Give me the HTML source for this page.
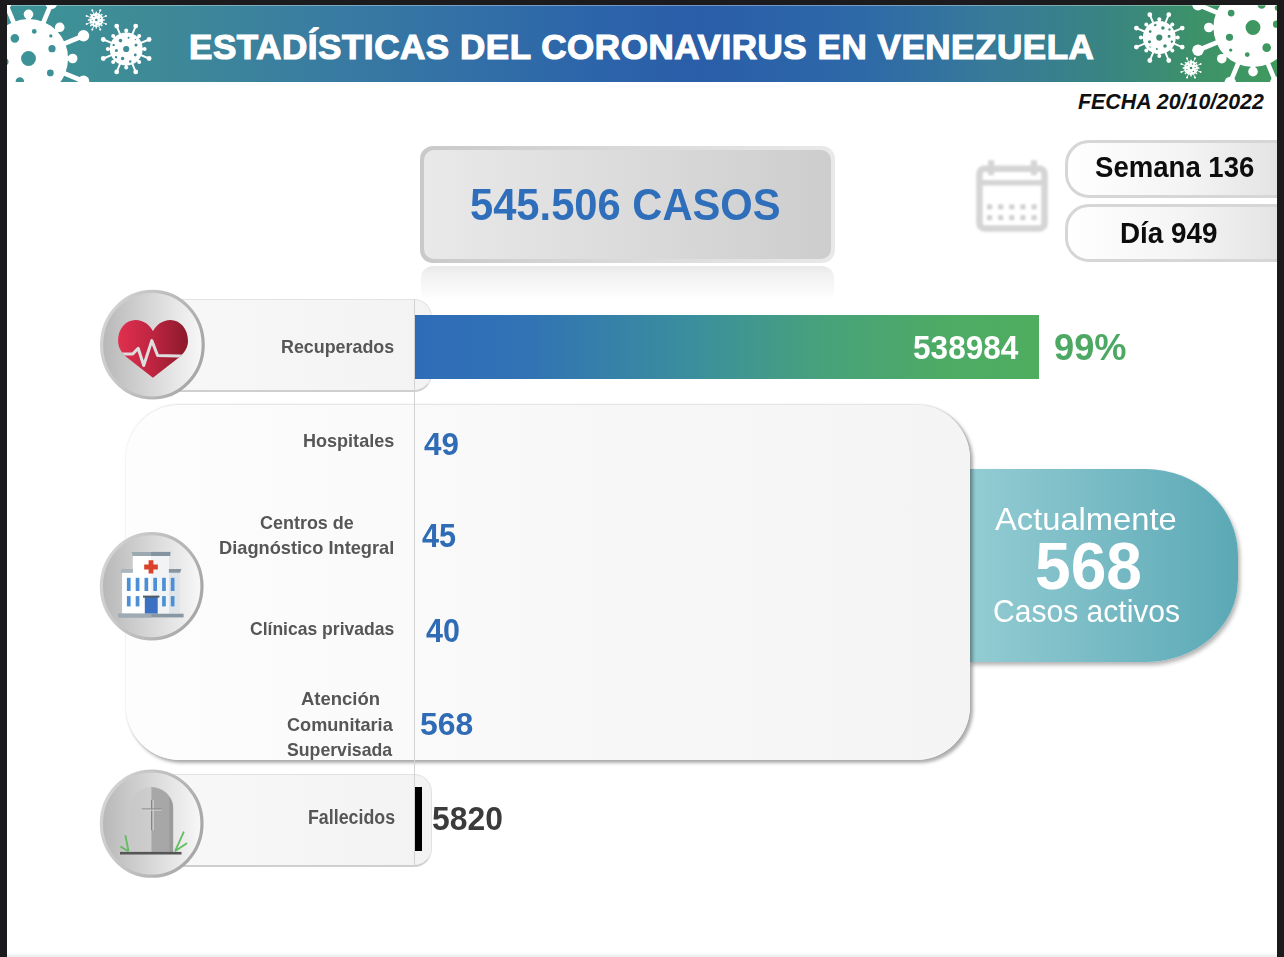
<!DOCTYPE html>
<html><head><meta charset="utf-8">
<style>
*{margin:0;padding:0;box-sizing:border-box}
html,body{width:1284px;height:957px;overflow:hidden;background:#1b1b1d}
body{position:relative;font-family:"Liberation Sans",sans-serif}
.page{position:absolute;left:7px;top:5px;width:1270px;height:952px;background:#fff;overflow:hidden}
.c{position:absolute;left:-7px;top:-5px;width:1284px;height:957px}
.a{position:absolute}
.t{position:absolute;white-space:nowrap;line-height:1;transform-origin:0 0}
.banner{position:absolute;left:7px;top:5px;width:1270px;height:77px;overflow:hidden;
 background:linear-gradient(90deg,#3d9497 0.0%,#3e8a96 11.3%,#3a7ea0 23.1%,#3371a6 34.9%,#2c64aa 46.7%,#2a5ea8 54.6%,#2d68a8 66.4%,#33739f 73.5%,#387a98 77.4%,#387f8e 82.1%,#3a867f 87.6%,#3d9268 93.9%,#3f9a5e 100.0%)}
.title{left:189px;top:28px;font-size:35px;font-weight:bold;color:#fff}
.fecha{font-weight:bold;font-style:italic;font-size:21.4px;color:#111}
.lbl{font-weight:bold;color:#575757;font-size:19px}
.num{font-weight:bold;color:#2f6db6;font-size:31.5px}
.circ{position:absolute;width:106px;height:106px;border-radius:50%;border:3px solid #bfbfbf;
 background:linear-gradient(90deg,#c3c3c3 0%,#dadada 45%,#f3f3f3 100%)}
.pill{position:absolute;background:linear-gradient(90deg,#f8f8f8,#f3f3f3);border:1px solid #e2e2e2;border-bottom:2px solid #cfcfcf;border-radius:0 18px 18px 0}
</style></head><body>
<div class="page"><div class="c">
 <div class="banner">
  <svg class="a" style="left:0;top:0" width="1270" height="77" viewBox="7 5 1270 77">
   <defs><g id="vir" fill="#fff"><path fill-rule="evenodd" d="M-16.50 0.00a16.50 16.50 0 1 0 33.00 0a16.50 16.50 0 1 0 -33.00 0ZM-3.10 0.00a3.10 3.10 0 1 0 6.20 0a3.10 3.10 0 1 0 -6.20 0ZM-7.50 -8.40a1.80 1.80 0 1 0 3.60 0a1.80 1.80 0 1 0 -3.60 0ZM1.40 -11.30a1.00 1.00 0 1 0 2.00 0a1.00 1.00 0 1 0 -2.00 0ZM8.60 -9.40a0.70 0.70 0 1 0 1.40 0a0.70 0.70 0 1 0 -1.40 0ZM8.30 -4.10a1.50 1.50 0 1 0 3.00 0a1.50 1.50 0 1 0 -3.00 0ZM7.70 6.00a1.40 1.40 0 1 0 2.80 0a1.40 1.40 0 1 0 -2.80 0ZM-5.35 9.60a1.75 1.75 0 1 0 3.50 0a1.75 1.75 0 1 0 -3.50 0ZM-11.30 1.40a1.50 1.50 0 1 0 3.00 0a1.50 1.50 0 1 0 -3.00 0ZM2.80 12.60a1.30 1.30 0 1 0 2.60 0a1.30 1.30 0 1 0 -2.60 0ZM-13.80 -4.10a1.20 1.20 0 1 0 2.40 0a1.20 1.20 0 1 0 -2.40 0ZM-11.40 8.20a1.20 1.20 0 1 0 2.40 0a1.20 1.20 0 1 0 -2.40 0Z"/><path fill="none" stroke="#fff" stroke-width="1.95" d="M-5.36 -12.93L-9.49 -22.91M0.00 -14.00L0.00 -18.40M5.36 -12.93L9.49 -22.91M9.90 -9.90L13.01 -13.01M12.93 -5.36L22.91 -9.49M14.00 0.00L18.40 0.00M12.93 5.36L22.91 9.49M9.90 9.90L13.01 13.01M5.36 12.93L9.49 22.91M0.00 14.00L0.00 18.40M-5.36 12.93L-9.49 22.91M-9.90 9.90L-13.01 13.01M-12.93 5.36L-22.91 9.49M-14.00 0.00L-18.40 0.00M-12.93 -5.36L-22.91 -9.49M-9.90 -9.90L-13.01 -13.01"/><circle cx="-9.49" cy="-22.91" r="2.4"/><circle cx="0.00" cy="-18.40" r="2.0"/><circle cx="9.49" cy="-22.91" r="2.4"/><circle cx="13.01" cy="-13.01" r="2.0"/><circle cx="22.91" cy="-9.49" r="2.4"/><circle cx="18.40" cy="0.00" r="2.0"/><circle cx="22.91" cy="9.49" r="2.4"/><circle cx="13.01" cy="13.01" r="2.0"/><circle cx="9.49" cy="22.91" r="2.4"/><circle cx="0.00" cy="18.40" r="2.0"/><circle cx="-9.49" cy="22.91" r="2.4"/><circle cx="-13.01" cy="13.01" r="2.0"/><circle cx="-22.91" cy="9.49" r="2.4"/><circle cx="-18.40" cy="0.00" r="2.0"/><circle cx="-22.91" cy="-9.49" r="2.4"/><circle cx="-13.01" cy="-13.01" r="2.0"/></g></defs>
   <use href="#vir" transform="translate(28.5,58.5) scale(2.4)"/>
   <use href="#vir" transform="translate(126.2,49)"/>
   <use href="#vir" transform="translate(96.3,20) scale(0.42)"/>
   <use href="#vir" transform="translate(1253,27.5) rotate(180) scale(2.4)"/>
   <use href="#vir" transform="translate(1159.3,37.6) rotate(180)"/>
   <use href="#vir" transform="translate(1191,68) rotate(180) scale(0.42)"/>
  </svg>
  <div class="a" style="left:0;top:0;width:1270px;height:1px;background:rgba(255,255,255,0.35)"></div>
  <div class="t title" style="left:182px;top:23.8px;letter-spacing:0.55px;-webkit-text-stroke:1.2px #fff">ESTADÍSTICAS DEL CORONAVIRUS EN VENEZUELA</div>
 </div>
 <div class="t fecha" style="left:1078px;top:92.3px">FECHA 20/10/2022</div>

 <!-- casos box -->
 <div class="a refl" style="left:421px;top:266px;width:413px;height:34px;border-radius:12px 12px 0 0;background:linear-gradient(180deg,#e9e9e9 0%,#f1f1f1 25%,rgba(255,255,255,0) 100%)"></div>
 <div class="a" style="left:420px;top:146px;width:415px;height:117px;border-radius:13px;background:linear-gradient(90deg,#c9c9c9,#e9e9e9)">
  <div class="a" style="left:4px;top:4px;right:4px;bottom:4px;border-radius:10px;background:linear-gradient(90deg,#e9e9e9,#cdcdcd)"></div>
 </div>

 <!-- calendar -->
 <svg class="a" style="left:960px;top:145px;filter:blur(1.1px)" width="105" height="100" viewBox="960 145 105 100">
  <g fill="none" stroke="#d5d5d5" stroke-width="6.5">
   <rect x="979.5" y="168.7" width="65" height="59.8" rx="5"/>
  </g>
  <rect x="979.5" y="180" width="65" height="5.6" fill="#d5d5d5"/>
  <g fill="#d5d5d5">
   <rect x="988" y="160.3" width="6.2" height="15" rx="1"/>
   <rect x="1030.9" y="160.3" width="6.2" height="15" rx="1"/>
  </g>
  <g fill="#cfcfcf">
   <rect x="987.1" y="204.4" width="5" height="5"/><rect x="998.2" y="204.4" width="5" height="5"/><rect x="1009.3" y="204.4" width="5" height="5"/><rect x="1020.4" y="204.4" width="5" height="5"/><rect x="1031.6" y="204.4" width="5" height="5"/>
   <rect x="987.1" y="215.2" width="5" height="5"/><rect x="998.2" y="215.2" width="5" height="5"/><rect x="1009.3" y="215.2" width="5" height="5"/><rect x="1020.4" y="215.2" width="5" height="5"/><rect x="1031.6" y="215.2" width="5" height="5"/>
  </g>
 </svg>

 <!-- semana / dia pills -->
 <div class="a" style="left:1065px;top:139.5px;width:240px;height:58px;border-radius:24px;border:3px solid #d6d6d6;background:linear-gradient(90deg,#ffffff 0%,#f4f4f4 50%,#e0e0e0 100%)"></div>
 <div class="a" style="left:1065px;top:204px;width:240px;height:58px;border-radius:24px;border:3px solid #d6d6d6;background:linear-gradient(90deg,#ffffff 0%,#f4f4f4 50%,#e0e0e0 100%)"></div>

 <!-- actualmente -->
 <div class="a" style="left:969px;top:468.5px;width:269px;height:193px;border-radius:0 92px 92px 0/0 86px 82px 0;background:linear-gradient(90deg,#94ccd3,#5ba9b6);box-shadow:2px 3px 4px rgba(0,0,0,0.3)"></div>

 <!-- big box -->
 <div class="a" style="left:126px;top:405px;width:844px;height:355px;border-radius:54px;background:linear-gradient(90deg,#fdfdfd,#f8f8f8 50%,#f4f4f4);box-shadow:0 -0.5px 2px rgba(0,0,0,0.10),2.5px 2.5px 3.5px rgba(0,0,0,0.32)"></div>

 <!-- recuperados row -->
 <div class="pill" style="left:150px;top:299px;width:282px;height:93px"></div>
 <div class="a" style="left:415px;top:315px;width:624px;height:63.5px;background:linear-gradient(90deg,#2f6cb8 0%,#3173b4 18%,#3b8f9c 45%,#48a27a 66%,#4dab64 85%,#4fad60 100%)"></div>

 <!-- hospital list -->

 <!-- fallecidos row -->
 <div class="pill" style="left:150px;top:774.4px;width:282px;height:93px"></div>
 <div class="a" style="left:415px;top:787px;width:6.5px;height:63.5px;background:#000"></div>

 <!-- axis line -->
 <div class="a" style="left:414px;top:299px;width:1px;height:568px;background:#d2d2d2"></div>


 <svg class="a" style="left:0;top:0" width="1284" height="957" viewBox="0 0 1284 957">
  <defs>
   <linearGradient id="cf" x1="0" y1="0" x2="1" y2="0"><stop offset="0" stop-color="#b7b7b7"/><stop offset="0.5" stop-color="#d8d8d8"/><stop offset="1" stop-color="#f8f8f8"/></linearGradient>
   <linearGradient id="cs" x1="0" y1="0.15" x2="1" y2="0.5"><stop offset="0" stop-color="#d6d6d6"/><stop offset="0.45" stop-color="#c2c2c2"/><stop offset="1" stop-color="#a8a8a8"/></linearGradient>
   <linearGradient id="hg" x1="0" y1="0" x2="1" y2="0"><stop offset="0" stop-color="#e0304f"/><stop offset="0.5" stop-color="#bd2440"/><stop offset="1" stop-color="#8a1a2a"/></linearGradient>
   <clipPath id="hc"><path d="M152.9 377.7L125.8 356.5C120.5 351.5 118.1 346.5 118.1 340.5C118.1 328.5 126 319.9 135.5 319.9C143.5 319.9 150 325 153 331.2C156 325 162.5 319.9 170.5 319.9C180 319.9 188 328.5 188 341C188 346.5 185.5 351.5 180.2 356.5Z"/></clipPath>
  </defs>
  <g fill="url(#cf)" stroke="url(#cs)" stroke-width="3.2">
   <ellipse cx="152.4" cy="344.7" rx="50.8" ry="53.3"/>
   <ellipse cx="151.7" cy="586.2" rx="50.3" ry="52.6"/>
   <ellipse cx="151.7" cy="823.6" rx="50.3" ry="52.6"/>
  </g>
  <!-- heart -->
  <path d="M152.9 377.7L125.8 356.5C120.5 351.5 118.1 346.5 118.1 340.5C118.1 328.5 126 319.9 135.5 319.9C143.5 319.9 150 325 153 331.2C156 325 162.5 319.9 170.5 319.9C180 319.9 188 328.5 188 341C188 346.5 185.5 351.5 180.2 356.5Z" fill="url(#hg)"/>
  <polyline clip-path="url(#hc)" points="110,354 132.7,354 138.2,348.3 143.7,365.5 151.8,340.6 157.6,355.5 195,356.5" fill="none" stroke="#dedede" stroke-width="3" stroke-linejoin="round"/>
  <!-- hospital -->
  <g>
   <rect x="122.1" y="572.7" width="57.8" height="41" fill="#ffffff"/>
   <rect x="168.9" y="572.7" width="11" height="41" fill="#dfe4e8"/>
   <rect x="132.8" y="555.9" width="36.1" height="57.8" fill="#ffffff"/>
   <rect x="151" y="555.9" width="17.9" height="57.8" fill="#f1f3f5"/>
   <path d="M121.4 569h11.4v3.8h-12.2z" fill="#a9b4bc"/>
   <path d="M168.9 569h12.5l-1.3 3.8h-11.2z" fill="#8796a1"/>
   <path d="M131.6 551.9h38.8l-1.5 4h-36.1z" fill="#9da9b1"/>
   <rect x="151" y="551.9" width="19.4" height="4" fill="#8393a0"/>
   <g fill="#4b8fd6">
    <rect x="126.9" y="577.8" width="3.7" height="13.2"/><rect x="135.7" y="577.8" width="3.7" height="13.2"/>
    <rect x="144.5" y="577.8" width="3.7" height="13.2"/><rect x="153.3" y="577.8" width="3.7" height="13.2"/>
    <rect x="162.1" y="577.8" width="3.7" height="13.2"/><rect x="170.8" y="577.8" width="3.7" height="13.2"/>
    <rect x="126.9" y="596.1" width="3.7" height="10.3"/><rect x="135.7" y="596.1" width="3.7" height="10.3"/>
    <rect x="162.1" y="596.1" width="3.7" height="10.3"/><rect x="170.8" y="596.1" width="3.7" height="10.3"/>
   </g>
   <rect x="144.8" y="596.9" width="12.9" height="16.8" fill="#3b71c3"/>
   <rect x="143" y="595.6" width="16.4" height="2" fill="#4d5b66"/>
   <path d="M148.6 560.3h4.8v4.3h4.4v4.8h-4.4v4h-4.8v-4h-4.4v-4.8h4.4z" fill="#d9432b"/>
   <rect x="118.4" y="613.7" width="65.2" height="3.7" fill="#8798a4"/>
   <rect x="118.4" y="613.7" width="33" height="3.7" fill="#9eabb4"/>
  </g>
  <!-- tombstone -->
  <g>
   <path d="M130 852V808.5a21.5 21.5 0 0 1 21.5-21.5v65z" fill="#c6c6c6" opacity="0.6"/>
   <path d="M151.4 787.1a21.7 21 0 0 1 21.7 21v43.8h-21.7z" fill="#a7a7a7"/>
   <path d="M169.3 796.5a21.7 21 0 0 1 3.8 11.6v43.8h-3.8z" fill="#9a9a9a"/>
   <rect x="151" y="800" width="1.5" height="30.2" fill="#858585"/>
   <rect x="152.5" y="800" width="1.4" height="30.2" fill="#cfcfcf"/>
   <rect x="141.8" y="808.4" width="20" height="1.2" fill="#8a8a8a"/>
   <rect x="141.8" y="809.6" width="20" height="1" fill="#d2d2d2"/>
   <g stroke="#62bd62" stroke-width="1.8" stroke-linecap="round" fill="none">
    <path d="M125.5 836L128.4 850.5M121 846.9L127.5 850.7M183.6 832.3L175.3 850.7M186.5 843.5L175.6 850.7"/>
   </g>
   <rect x="120" y="851.9" width="61.5" height="2.6" fill="#555555"/>
  </g>
 </svg>
<div class="a" style="left:0;top:951px;width:1284px;height:6px;background:linear-gradient(180deg,rgba(235,235,235,0) 30%,#ebebeb)"></div>
 <div class="t" id="casos" style="left:470.28px;top:182.49px;font-size:45.22px;font-weight:bold;font-style:normal;color:#2f6eba;transform:scaleX(0.9219)">545.506 CASOS</div>
 <div class="t" id="semana" style="left:1094.56px;top:152.14px;font-size:29.42px;font-weight:bold;font-style:normal;color:#0d0d0d;transform:scaleX(0.9373)">Semana 136</div>
 <div class="t" id="dia" style="left:1119.53px;top:218.65px;font-size:28.70px;font-weight:bold;font-style:normal;color:#0d0d0d;transform:scaleX(0.9697)">Día 949</div>
 <div class="t" id="recup" style="left:280.87px;top:336.61px;font-size:19.28px;font-weight:bold;font-style:normal;color:#565656;transform:scaleX(0.9273)">Recuperados</div>
 <div class="t" id="n538" style="left:912.63px;top:331.57px;font-size:32.46px;font-weight:bold;font-style:normal;color:#ffffff;transform:scaleX(0.9731)">538984</div>
 <div class="t" id="p99" style="left:1053.64px;top:328.76px;font-size:37.68px;font-weight:bold;font-style:normal;color:#4ca862;transform:scaleX(0.9608)">99%</div>
 <div class="t" id="hosp" style="left:302.96px;top:431.31px;font-size:19.28px;font-weight:bold;font-style:normal;color:#565656;transform:scaleX(0.9365)">Hospitales</div>
 <div class="t" id="n49" style="left:423.80px;top:427.51px;font-size:32.17px;font-weight:bold;font-style:normal;color:#2f6cb5;transform:scaleX(0.9743)">49</div>
 <div class="t" id="centros" style="left:260.20px;top:512.51px;font-size:19.28px;font-weight:bold;font-style:normal;color:#565656;transform:scaleX(0.9320)">Centros de</div>
 <div class="t" id="diag" style="left:218.75px;top:538.01px;font-size:19.28px;font-weight:bold;font-style:normal;color:#565656;transform:scaleX(0.9467)">Diagnóstico Integral</div>
 <div class="t" id="n45" style="left:421.60px;top:520.25px;font-size:32.61px;font-weight:bold;font-style:normal;color:#2f6cb5;transform:scaleX(0.9389)">45</div>
 <div class="t" id="clin" style="left:249.90px;top:619.31px;font-size:19.28px;font-weight:bold;font-style:normal;color:#565656;transform:scaleX(0.9101)">Clínicas privadas</div>
 <div class="t" id="n40" style="left:425.90px;top:615.39px;font-size:32.32px;font-weight:bold;font-style:normal;color:#2f6cb5;transform:scaleX(0.9429)">40</div>
 <div class="t" id="aten" style="left:300.53px;top:688.83px;font-size:19.13px;font-weight:bold;font-style:normal;color:#565656;transform:scaleX(0.9675)">Atención</div>
 <div class="t" id="comu" style="left:286.80px;top:714.61px;font-size:19.28px;font-weight:bold;font-style:normal;color:#565656;transform:scaleX(0.9407)">Comunitaria</div>
 <div class="t" id="supe" style="left:286.88px;top:740.21px;font-size:19.28px;font-weight:bold;font-style:normal;color:#565656;transform:scaleX(0.9175)">Supervisada</div>
 <div class="t" id="n568" style="left:420.40px;top:707.94px;font-size:32.03px;font-weight:bold;font-style:normal;color:#2f6cb5;transform:scaleX(0.9962)">568</div>
 <div class="t" id="fall" style="left:308.09px;top:808.37px;font-size:19.57px;font-weight:bold;font-style:normal;color:#565656;transform:scaleX(0.9096)">Fallecidos</div>
 <div class="t" id="n5820" style="left:431.51px;top:803.39px;font-size:32.32px;font-weight:bold;font-style:normal;color:#3b3b3b;transform:scaleX(0.9857)">5820</div>
 <div class="t" id="actu" style="left:994.90px;top:502.71px;font-size:32.17px;font-weight:normal;font-style:normal;color:#ffffff;transform:scaleX(1.0163)">Actualmente</div>
 <div class="t" id="big568" style="left:1034.96px;top:533.68px;font-size:65.94px;font-weight:bold;font-style:normal;color:#ffffff;transform:scaleX(0.9717)">568</div>
 <div class="t" id="casact" style="left:992.84px;top:595.77px;font-size:31.16px;font-weight:normal;font-style:normal;color:#ffffff;transform:scaleX(0.9646)">Casos activos</div>
</div></div>
</body></html>
